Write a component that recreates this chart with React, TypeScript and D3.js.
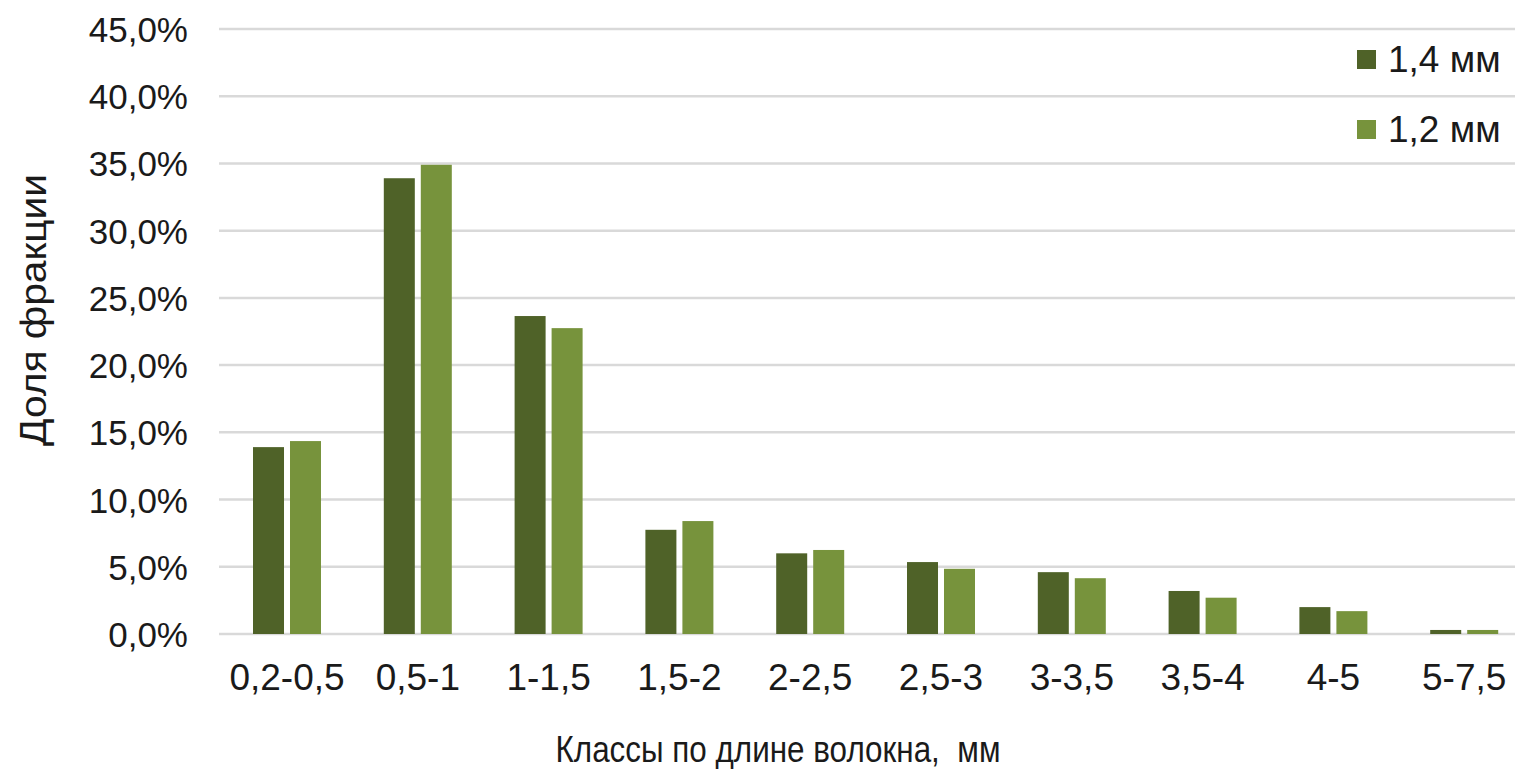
import React from "react";
import * as d3 from "d3";

const categories = ["0,2-0,5", "0,5-1", "1-1,5", "1,5-2", "2-2,5", "2,5-3", "3-3,5", "3,5-4", "4-5", "5-7,5"];
const seriesNames = ["1,4 мм", "1,2 мм"];
const series14 = [13.9, 33.9, 23.65, 7.75, 6.0, 5.35, 4.6, 3.2, 2.0, 0.3];
const series12 = [14.35, 34.9, 22.75, 8.4, 6.25, 4.85, 4.15, 2.7, 1.7, 0.3];
const yTicks = [0, 5, 10, 15, 20, 25, 30, 35, 40, 45];
const colors = ["#4f6228", "#77933c"];
const yTitle = "Доля фракции";
const xTitle = "Классы по длине волокна,  мм";

const W = 1515;
const H = 769;
const FONT = "'Liberation Sans', Arial, sans-serif";
const TEXT = "#1a1a1a";

export default function App() {
  const x0 = d3.scaleBand<string>().domain(categories).range([221.6, 1529.6]).padding(0);
  const groupW = 68;
  const x1 = d3.scaleBand<string>().domain(seriesNames).range([0, groupW]).paddingInner(0.162).paddingOuter(0);
  const y = d3.scaleLinear().domain([0, 45]).range([634, 29]);
  const data = [series14, series12];

  return (
    <div style={{ position: "absolute", left: 0, top: 0 }}>
      <svg width={W} height={H} style={{ display: "block", background: "#fff" }} fontFamily={FONT}>
        {yTicks.map((t) => (
          <g key={t}>
            <line x1={219} x2={W} y1={y(t)} y2={y(t)} stroke="#d9d9d9" strokeWidth={2.5} />
            <text x={188} y={y(t) + 13} textAnchor="end" fontSize={35} fill={TEXT}>
              {d3.format(".1f")(t).replace(".", ",") + "%"}
            </text>
          </g>
        ))}
        {categories.map((c, i) => {
          const gx = (x0(c) as number) + (x0.bandwidth() - groupW) / 2;
          return (
            <g key={c}>
              {seriesNames.map((s, si) => (
                <rect
                  key={s}
                  x={gx + (x1(s) as number)}
                  width={x1.bandwidth()}
                  y={y(data[si][i])}
                  height={y(0) - y(data[si][i])}
                  fill={colors[si]}
                />
              ))}
              <text x={(x0(c) as number) + x0.bandwidth() / 2} y={690} textAnchor="middle" fontSize={37} fill={TEXT}>
                {c}
              </text>
            </g>
          );
        })}
        <text x={778} y={762} textAnchor="middle" fontSize={37} fill={TEXT} textLength={445} lengthAdjust="spacingAndGlyphs" style={{ whiteSpace: "pre" }}>
          {xTitle}
        </text>
        <text transform={`translate(46,310) rotate(-90)`} textAnchor="middle" fontSize={37} fill={TEXT} textLength={272} lengthAdjust="spacingAndGlyphs">
          {yTitle}
        </text>
        {seriesNames.map((s, i) => (
          <g key={s} transform={`translate(1357,${50 + i * 70})`}>
            <rect x={0} y={0} width={19} height={19} fill={colors[i]} />
            <text x={31} y={22} fontSize={37} fill={TEXT}>
              {s}
            </text>
          </g>
        ))}
      </svg>
    </div>
  );
}
